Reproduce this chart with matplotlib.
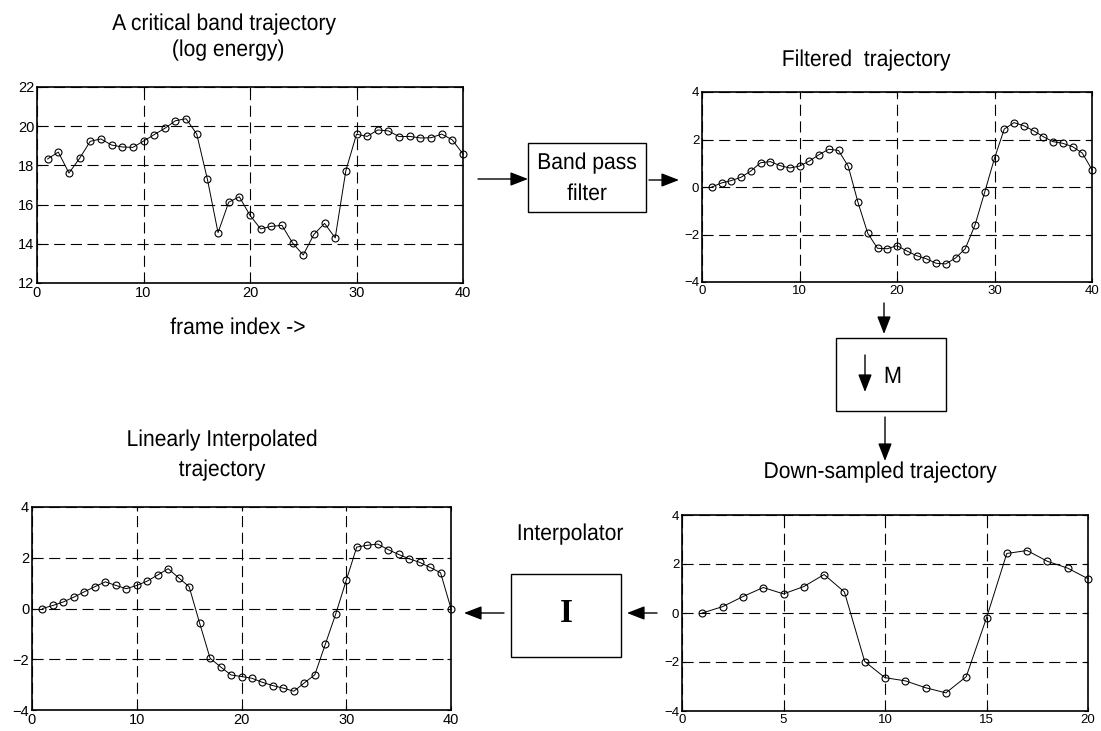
import numpy as np
import matplotlib
matplotlib.use("Agg")
import matplotlib.pyplot as plt
from matplotlib.patches import Rectangle, FancyArrowPatch
from matplotlib.patheffects import AbstractPathEffect
from matplotlib.transforms import Affine2D

plt.rcParams['font.family'] = ['Liberation Sans', 'DejaVu Sans']

# ---------------- data ----------------
frames = list(range(1, 41))
log_energy = [18.33, 18.68, 17.61, 18.36, 19.23, 19.35, 19.04, 18.94, 18.92, 19.24,
              19.57, 19.89, 20.28, 20.38, 19.60, 17.29, 14.57, 16.12, 16.40, 15.45,
              14.76, 14.89, 14.94, 14.04, 13.43, 14.48, 15.04, 14.30, 17.73, 19.59,
              19.48, 19.81, 19.76, 19.47, 19.48, 19.40, 19.41, 19.60, 19.30, 18.58]
filtered = [0.00, 0.17, 0.27, 0.41, 0.67, 1.02, 1.07, 0.90, 0.80, 0.88,
            1.09, 1.36, 1.59, 1.54, 0.87, -0.65, -1.95, -2.58, -2.60, -2.47,
            -2.69, -2.89, -3.02, -3.21, -3.24, -2.99, -2.60, -1.60, -0.21, 1.21,
            2.44, 2.71, 2.58, 2.37, 2.12, 1.91, 1.84, 1.70, 1.43, 0.73]
down_idx = list(range(1, 21))
downsampled = [0.00, 0.26, 0.67, 1.04, 0.78, 1.08, 1.57, 0.86, -1.98, -2.64,
               -2.77, -3.05, -3.26, -2.60, -0.20, 2.43, 2.55, 2.11, 1.83, 1.40]
interpolated = [0.00, 0.12, 0.26, 0.45, 0.66, 0.86, 1.05, 0.91, 0.78, 0.91,
                1.08, 1.32, 1.57, 1.21, 0.86, -0.57, -1.96, -2.30, -2.62, -2.68,
                -2.75, -2.91, -3.04, -3.14, -3.26, -2.93, -2.61, -1.41, -0.21, 1.11,
                2.42, 2.49, 2.54, 2.32, 2.13, 1.96, 1.82, 1.62, 1.41, 0.00]

xticks40 = [0, 10, 20, 30, 40]
xticks20 = [0, 5, 10, 15, 20]
yticks_energy = [12, 14, 16, 18, 20, 22]
yticks_pm4 = [-4, -2, 0, 2, 4]

# ---------------- figure ----------------
W, H = 1101, 731
fig = plt.figure(figsize=(W / 100, H / 100), dpi=100)


class Squeeze(AbstractPathEffect):
    """Render text glyphs slightly condensed (Helvetica-Narrow look)."""

    def __init__(self, sx=0.92):
        super().__init__()
        self.sx = sx

    def draw_path(self, renderer, gc, tpath, affine, rgbFace=None):
        ext = tpath.get_extents()
        cx = (ext.x0 + ext.x1) / 2
        a = Affine2D().translate(-cx, 0).scale(self.sx, 1).translate(cx, 0) + affine
        renderer.draw_path(gc, tpath, a, rgbFace)


def box(l, r, t, b):
    return [l / W, 1 - b / H, (r - l) / W, (b - t) / H]


def fxy(x, y):
    return (x / W, 1 - y / H)


def style_axes(ax, xlim, ylim, xt, yt, fs=10):
    ax.set_xlim(*xlim)
    ax.set_ylim(*ylim)
    ax.set_xticks(xt)
    ax.set_yticks(yt)
    ax.grid(True, color='black', linestyle=(0, (10, 5)), linewidth=0.8)
    ax.tick_params(direction='in', length=3, labelsize=fs, pad=2, top=True, right=True)
    for s in ax.spines.values():
        s.set_linewidth(1.2)


def plot_series(ax, x, y):
    ax.plot(x, y, color='black', linewidth=0.7, marker='o', markersize=5,
            markerfacecolor='none', markeredgewidth=0.8, clip_on=False, zorder=3)


ax1 = fig.add_axes(box(37, 463, 87, 283))
plot_series(ax1, frames, log_energy)
style_axes(ax1, (0, 40), (12, 22), xticks40, yticks_energy, fs=10.5)

ax2 = fig.add_axes(box(702, 1092, 92, 282))
plot_series(ax2, frames, filtered)
style_axes(ax2, (0, 40), (-4, 4), xticks40, yticks_pm4, fs=9.5)

ax3 = fig.add_axes(box(682, 1088, 515, 711))
plot_series(ax3, down_idx, downsampled)
style_axes(ax3, (0, 20), (-4, 4), xticks20, yticks_pm4, fs=9.5)

ax4 = fig.add_axes(box(32, 451, 507, 710))
plot_series(ax4, frames, interpolated)
style_axes(ax4, (0, 40), (-4, 4), xticks40, yticks_pm4, fs=10.5)

# ---------------- texts ----------------
tfs = 16.5
sq = [Squeeze(0.92)]


def label(x, y, s, fs=tfs):
    fig.text(*fxy(x, y), s, ha='center', va='baseline', fontsize=fs,
             path_effects=sq)


label(224, 30, "A critical band trajectory")
label(228, 56, "(log energy)")
label(238, 334, "frame index ->")
label(866, 66, "Filtered  trajectory")
label(222, 446, "Linearly Interpolated")
label(222, 476, "trajectory")
label(880, 478, "Down-sampled trajectory")
label(570, 540, "Interpolator")

# ---------------- boxes ----------------
def rect(l, r, t, b):
    fig.add_artist(Rectangle((l / W, 1 - b / H), (r - l) / W, (b - t) / H,
                             transform=fig.transFigure, fill=False,
                             edgecolor='black', linewidth=1.0))


def arrow(x0, y0, x1, y1):
    fig.add_artist(FancyArrowPatch(fxy(x0, y0), fxy(x1, y1), transform=fig.transFigure,
                                   arrowstyle='-|>,head_length=0.9,head_width=0.35',
                                   mutation_scale=12, color='black', linewidth=1.0,
                                   shrinkA=0, shrinkB=0))


rect(528, 646, 143, 212)
label(587, 169, "Band pass", fs=16.5)
label(587, 200, "filter", fs=16.5)
arrow(478, 179, 528, 179)
arrow(649, 180, 679, 180)

rect(836, 946, 338, 411)
arrow(884, 303, 884, 334)
arrow(885, 417, 885, 461)
arrow(865, 355, 865, 392)
label(893, 383, "M", fs=17)

rect(511, 621, 574, 657)
fig.text(*fxy(566, 614), "I", ha='center', va='center', fontsize=24,
         family=['Liberation Serif', 'DejaVu Serif'], fontweight='bold')
arrow(657, 613, 627, 613)
arrow(504, 613, 464, 613)

fig.savefig("out.png", dpi=100)
